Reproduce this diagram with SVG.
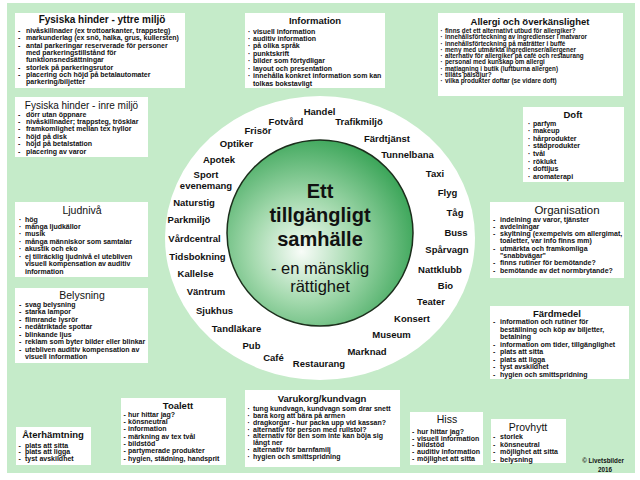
<svg xmlns="http://www.w3.org/2000/svg" width="640" height="480" viewBox="0 0 640 480">
<defs>
<radialGradient id="cg" cx="0.42" cy="0.58" r="0.62" fx="0.4" fy="0.6">
<stop offset="0" stop-color="#f8fcf8"/>
<stop offset="0.45" stop-color="#a3d9ad"/>
<stop offset="1" stop-color="#39a457"/>
</radialGradient>
<style>
text{font-family:"Liberation Sans",Arial,sans-serif;fill:#111}
.box{fill:#fff}
.tb{font-size:9.5px;font-weight:bold;text-anchor:middle}
.tr{font-size:10.5px;text-anchor:middle}
.it{font-size:7px;font-weight:bold}
.its{font-size:6.3px;font-weight:bold}
.ring{font-size:9.5px;font-weight:bold;text-anchor:middle}
.c1{font-size:20px;font-weight:bold;text-anchor:middle}
.c2{font-size:16.5px;text-anchor:middle}
</style>
</defs>
<rect x="7" y="3" width="628" height="470" fill="#c5ebc9"/>
<g id="ring">
<ellipse cx="320" cy="238" rx="155" ry="142" fill="#fff"/>
<text class="ring" x="319.5" y="115">Handel</text>
<text class="ring" x="286" y="125">Fotvård</text>
<text class="ring" x="258" y="134">Frisör</text>
<text class="ring" x="236.5" y="147">Optiker</text>
<text class="ring" x="219" y="163">Apotek</text>
<text class="ring" x="206" y="178">Sport</text>
<text class="ring" x="206" y="189">evenemang</text>
<text class="ring" x="194" y="206">Naturstig</text>
<text class="ring" x="189" y="223">Parkmiljö</text>
<text class="ring" x="194.5" y="242">Vårdcentral</text>
<text class="ring" x="197.5" y="260">Tidsbokning</text>
<text class="ring" x="195.5" y="277">Kallelse</text>
<text class="ring" x="206" y="295">Väntrum</text>
<text class="ring" x="214.5" y="314">Sjukhus</text>
<text class="ring" x="236.5" y="332">Tandläkare</text>
<text class="ring" x="251.5" y="349">Pub</text>
<text class="ring" x="273.5" y="361">Café</text>
<text class="ring" x="319" y="367">Restaurang</text>
<text class="ring" x="359" y="125">Trafikmiljö</text>
<text class="ring" x="387" y="142">Färdtjänst</text>
<text class="ring" x="407.5" y="158">Tunnelbana</text>
<text class="ring" x="435" y="177">Taxi</text>
<text class="ring" x="447.5" y="196">Flyg</text>
<text class="ring" x="455" y="216">Tåg</text>
<text class="ring" x="456" y="236">Buss</text>
<text class="ring" x="447" y="253">Spårvagn</text>
<text class="ring" x="440" y="273">Nattklubb</text>
<text class="ring" x="445.5" y="289">Bio</text>
<text class="ring" x="431" y="305">Teater</text>
<text class="ring" x="412" y="322">Konsert</text>
<text class="ring" x="391.5" y="338">Museum</text>
<text class="ring" x="367" y="355">Marknad</text>
</g>
<g id="center">
<circle cx="320" cy="233" r="93" fill="url(#cg)" stroke="#1c2e1c" stroke-width="1.5"/>
<text class="c1" x="320" y="198">Ett</text>
<text class="c1" x="320" y="222">tillgängligt</text>
<text class="c1" x="320" y="246">samhälle</text>
<text class="c2" x="320" y="274">- en mänsklig</text>
<text class="c2" x="320" y="292">rättighet</text>
</g>
<g id="connectors"/>
<g id="yttre">
<rect class="box" x="15" y="13" width="170" height="75"/>
<text class="tb" x="102" y="23" style="font-size:10px">Fysiska hinder - yttre miljö</text>
<text class="it"><tspan x="18" y="33">-</tspan><tspan x="18" y="40.3">-</tspan><tspan x="18" y="47.6">-</tspan><tspan x="18" y="69.5">-</tspan><tspan x="18" y="76.8">-</tspan></text>
<text class="it"><tspan x="26" y="33">nivåskillnader (ex trottoarkanter, trappsteg)</tspan><tspan x="26" y="40.3">markunderlag (ex snö, halka, grus, kullersten)</tspan><tspan x="26" y="47.6">antal parkeringar reserverade för personer</tspan><tspan x="26" y="54.9">med parkeringstillstånd för</tspan><tspan x="26" y="62.2">funktionsnedsättningar</tspan><tspan x="26" y="69.5">storlek på parkeringsrutor</tspan><tspan x="26" y="76.8">placering och höjd på betalautomater</tspan><tspan x="26" y="84.1">parkering/biljetter</tspan></text>
</g>
<g id="inre">
<rect class="box" x="15" y="97" width="133" height="60"/>
<text class="tr" x="81.5" y="109" style="font-size:10px">Fysiska hinder - inre miljö</text>
<text class="it"><tspan x="18" y="116.5">-</tspan><tspan x="18" y="123.9">-</tspan><tspan x="18" y="131.3">-</tspan><tspan x="18" y="138.7">-</tspan><tspan x="18" y="146.1">-</tspan><tspan x="18" y="153.5">-</tspan></text>
<text class="it"><tspan x="26" y="116.5">dörr utan öppnare</tspan><tspan x="26" y="123.9">nivåskillnader; trappsteg, trösklar</tspan><tspan x="26" y="131.3">framkomlighet mellan tex hyllor</tspan><tspan x="26" y="138.7">höjd på disk</tspan><tspan x="26" y="146.1">höjd på betalstation</tspan><tspan x="26" y="153.5">placering av varor</tspan></text>
</g>
<g id="ljudniva">
<rect class="box" x="15" y="202" width="133" height="75"/>
<text class="tr" x="82" y="214">Ljudnivå</text>
<text class="it"><tspan x="19" y="221.5">·</tspan><tspan x="19" y="228.9">·</tspan><tspan x="19" y="236.4">·</tspan><tspan x="19" y="243.8">·</tspan><tspan x="19" y="251.2">·</tspan><tspan x="19" y="258.6">·</tspan></text>
<text class="it"><tspan x="25" y="221.5">hög</tspan><tspan x="25" y="228.9">många ljudkällor</tspan><tspan x="25" y="236.4">musik</tspan><tspan x="25" y="243.8">många människor som samtalar</tspan><tspan x="25" y="251.2">akustik och eko</tspan><tspan x="25" y="258.6">ej tillräcklig ljudnivå el utebliven</tspan><tspan x="25" y="266.1">visuell kompensation av auditiv</tspan><tspan x="25" y="273.5">information</tspan></text>
</g>
<g id="belysning">
<rect class="box" x="15" y="288" width="133" height="75"/>
<text class="tr" x="82" y="299">Belysning</text>
<text class="it"><tspan x="19" y="306.8">-</tspan><tspan x="19" y="314.3">-</tspan><tspan x="19" y="321.8">-</tspan><tspan x="19" y="329.3">-</tspan><tspan x="19" y="336.8">-</tspan><tspan x="19" y="344.3">-</tspan><tspan x="19" y="351.8">-</tspan></text>
<text class="it"><tspan x="25" y="306.8">svag belysning</tspan><tspan x="25" y="314.3">starka lampor</tspan><tspan x="25" y="321.8">flimrande lysrör</tspan><tspan x="25" y="329.3">nedåtriktade spottar</tspan><tspan x="25" y="336.8">blinkande ljus</tspan><tspan x="25" y="344.3">reklam som byter bilder eller blinkar</tspan><tspan x="25" y="351.8">utebliven auditiv kompensation av</tspan><tspan x="25" y="359.3">visuell information</tspan></text>
</g>
<g id="information">
<rect class="box" x="245" y="13" width="140" height="75"/>
<text class="tb" x="315" y="24">Information</text>
<text class="it"><tspan x="248" y="33.5">·</tspan><tspan x="248" y="41">·</tspan><tspan x="248" y="48.4">·</tspan><tspan x="248" y="55.9">·</tspan><tspan x="248" y="63.4">·</tspan><tspan x="248" y="70.9">·</tspan><tspan x="248" y="78.3">·</tspan></text>
<text class="it"><tspan x="253" y="33.5">visuell information</tspan><tspan x="253" y="41">auditiv information</tspan><tspan x="253" y="48.4">på olika språk</tspan><tspan x="253" y="55.9">punktskrift</tspan><tspan x="253" y="63.4">bilder som förtydligar</tspan><tspan x="253" y="70.9">layout och presentation</tspan><tspan x="253" y="78.3">innehålla konkret information som kan</tspan><tspan x="253" y="85.8">tolkas bokstavligt</tspan></text>
</g>
<g id="allergi">
<rect class="box" x="438" y="13" width="185" height="83"/>
<text class="tb" x="530" y="24.5">Allergi och överkänslighet</text>
<text class="its"><tspan x="440.5" y="33">·</tspan><tspan x="440.5" y="39.25">·</tspan><tspan x="440.5" y="45.5">·</tspan><tspan x="440.5" y="51.75">·</tspan><tspan x="440.5" y="58">·</tspan><tspan x="440.5" y="64.25">·</tspan><tspan x="440.5" y="70.5">·</tspan><tspan x="440.5" y="76.75">·</tspan><tspan x="440.5" y="83">·</tspan></text>
<text class="its"><tspan x="445" y="33">finns det ett alternativt utbud för allergiker?</tspan><tspan x="445" y="39.25">innehållsförteckning av ingredienser i matvaror</tspan><tspan x="445" y="45.5">innehållsförteckning på maträtter i buffé</tspan><tspan x="445" y="51.75">meny med utmärkta ingredienser/allergener</tspan><tspan x="445" y="58">alternativ för allergiker på café och restaurang</tspan><tspan x="445" y="64.25">personal med kunskap om allergi</tspan><tspan x="445" y="70.5">matlagning i butik (luftburna allergen)</tspan><tspan x="445" y="76.75">tillåts pälsdjur?</tspan><tspan x="445" y="83">vilka produkter doftar (se vidare doft)</tspan></text>
</g>
<g id="doft">
<rect class="box" x="523" y="107" width="101" height="75"/>
<text class="tb" x="573" y="118">Doft</text>
<text class="it"><tspan x="528" y="125.8">·</tspan><tspan x="528" y="133.3">·</tspan><tspan x="528" y="140.9">·</tspan><tspan x="528" y="148.4">·</tspan><tspan x="528" y="155.9">·</tspan><tspan x="528" y="163.5">·</tspan><tspan x="528" y="171">·</tspan><tspan x="528" y="178.5">·</tspan></text>
<text class="it"><tspan x="533" y="125.8">parfym</tspan><tspan x="533" y="133.3">makeup</tspan><tspan x="533" y="140.9">hårprodukter</tspan><tspan x="533" y="148.4">städprodukter</tspan><tspan x="533" y="155.9">tvål</tspan><tspan x="533" y="163.5">röklukt</tspan><tspan x="533" y="171">doftljus</tspan><tspan x="533" y="178.5">aromaterapi</tspan></text>
</g>
<g id="organisation">
<rect class="box" x="490" y="202" width="134" height="76"/>
<text class="tr" x="567" y="213.5" style="font-size:11.5px">Organisation</text>
<text class="it"><tspan x="493" y="221.5">-</tspan><tspan x="493" y="228.8">-</tspan><tspan x="493" y="236.1">-</tspan><tspan x="493" y="250.7">-</tspan><tspan x="493" y="265.3">-</tspan><tspan x="493" y="272.6">-</tspan></text>
<text class="it"><tspan x="500" y="221.5">indelning av varor, tjänster</tspan><tspan x="500" y="228.8">avdelningar</tspan><tspan x="500" y="236.1">skyltning (exempelvis om allergimat,</tspan><tspan x="500" y="243.4">toaletter, var info finns mm)</tspan><tspan x="500" y="250.7">utmärkta och framkomliga</tspan><tspan x="500" y="258">"snabbvägar"</tspan><tspan x="500" y="265.3">finns rutiner för bemötande?</tspan><tspan x="500" y="272.6">bemötande av det normbrytande?</tspan></text>
</g>
<g id="fardmedel">
<rect class="box" x="490" y="306" width="139" height="73"/>
<text class="tb" x="557" y="316.5">Färdmedel</text>
<text class="it"><tspan x="493" y="324.2">-</tspan><tspan x="493" y="346.7">-</tspan><tspan x="493" y="354.2">-</tspan><tspan x="493" y="361.8">-</tspan><tspan x="493" y="369.3">-</tspan><tspan x="493" y="376.8">-</tspan></text>
<text class="it"><tspan x="500" y="324.2">information och rutiner för</tspan><tspan x="500" y="331.7">beställning och köp av biljetter,</tspan><tspan x="500" y="339.2">betalning</tspan><tspan x="500" y="346.7">information om tider, tillgänglighet</tspan><tspan x="500" y="354.2">plats att sitta</tspan><tspan x="500" y="361.8">plats att ligga</tspan><tspan x="500" y="369.3">tyst avskildhet</tspan><tspan x="500" y="376.8">hygien och smittspridning</tspan></text>
</g>
<g id="aterhamtning">
<rect class="box" x="16" y="427" width="75" height="38"/>
<text class="tb" x="53" y="438">Återhämtning</text>
<text class="it"><tspan x="18.5" y="447.5">-</tspan><tspan x="18.5" y="454.2">-</tspan><tspan x="18.5" y="460.9">-</tspan></text>
<text class="it"><tspan x="25" y="447.5">plats att sitta</tspan><tspan x="25" y="454.2">plats att ligga</tspan><tspan x="25" y="460.9">tyst avskildhet</tspan></text>
</g>
<g id="toalett">
<rect class="box" x="121" y="398" width="105" height="67"/>
<text class="tb" x="178" y="409">Toalett</text>
<text class="it"><tspan x="123.5" y="416.5">-</tspan><tspan x="123.5" y="423.9">-</tspan><tspan x="123.5" y="431.3">-</tspan><tspan x="123.5" y="438.6">-</tspan><tspan x="123.5" y="446">-</tspan><tspan x="123.5" y="453.4">-</tspan><tspan x="123.5" y="460.8">-</tspan></text>
<text class="it"><tspan x="128" y="416.5">hur hittar jag?</tspan><tspan x="128" y="423.9">könsneutral</tspan><tspan x="128" y="431.3">information</tspan><tspan x="128" y="438.6">märkning av tex tvål</tspan><tspan x="128" y="446">bildstöd</tspan><tspan x="128" y="453.4">partymerade produkter</tspan><tspan x="128" y="460.8">hygien, städning, handsprit</tspan></text>
</g>
<g id="varukorg">
<rect class="box" x="245" y="390" width="155" height="77"/>
<text class="tb" x="322" y="402">Varukorg/kundvagn</text>
<text class="it"><tspan x="247.5" y="410.8">·</tspan><tspan x="247.5" y="417.7">·</tspan><tspan x="247.5" y="424.6">·</tspan><tspan x="247.5" y="431.5">·</tspan><tspan x="247.5" y="438.4">·</tspan><tspan x="247.5" y="452.3">·</tspan><tspan x="247.5" y="459.2">·</tspan></text>
<text class="it"><tspan x="253" y="410.8">tung kundvagn, kundvagn som drar snett</tspan><tspan x="253" y="417.7">bara korg att bära på armen</tspan><tspan x="253" y="424.6">dragkorgar - hur packa upp vid kassan?</tspan><tspan x="253" y="431.5">alternativ för person med rullstol?</tspan><tspan x="253" y="438.4">alternativ för den som inte kan böja sig</tspan><tspan x="253" y="445.3">långt ner</tspan><tspan x="253" y="452.3">alternativ för barnfamilj</tspan><tspan x="253" y="459.2">hygien och smittspridning</tspan></text>
</g>
<g id="hiss">
<rect class="box" x="410" y="412" width="73" height="53"/>
<text class="tr" x="447" y="422.7">Hiss</text>
<text class="it"><tspan x="412" y="434">-</tspan><tspan x="412" y="440.65">-</tspan><tspan x="412" y="447.3">-</tspan><tspan x="412" y="453.95">-</tspan><tspan x="412" y="460.6">-</tspan></text>
<text class="it"><tspan x="417" y="434">hur hittar jag?</tspan><tspan x="417" y="440.65">visuell information</tspan><tspan x="417" y="447.3">bildstöd</tspan><tspan x="417" y="453.95">auditiv information</tspan><tspan x="417" y="460.6">möjlighet att sitta</tspan></text>
</g>
<g id="provhytt">
<rect class="box" x="491" y="419" width="75" height="44"/>
<text class="tr" x="528" y="430.5">Provhytt</text>
<text class="it"><tspan x="493" y="439">-</tspan><tspan x="493" y="446.5">-</tspan><tspan x="493" y="454">-</tspan><tspan x="493" y="461.5">-</tspan></text>
<text class="it"><tspan x="500" y="439">storlek</tspan><tspan x="500" y="446.5">könsneutral</tspan><tspan x="500" y="454">möjlighet att sitta</tspan><tspan x="500" y="461.5">belysning</tspan></text>
</g>
<g id="copyright">
<text class="its" x="603" y="463" text-anchor="middle">© Livetsbilder</text>
<text class="its" x="605" y="472" text-anchor="middle">2016</text>
</g>
</svg>
